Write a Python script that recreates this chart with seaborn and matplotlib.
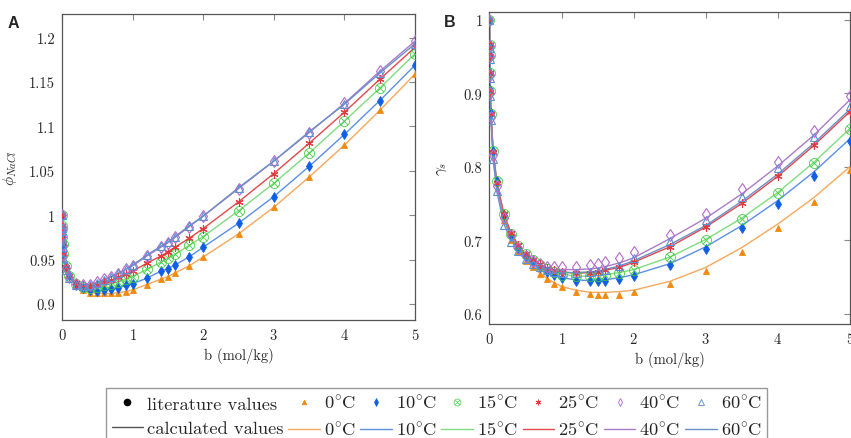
import numpy as np
import pandas as pd
import matplotlib
matplotlib.use("Agg")
import matplotlib.pyplot as plt
from matplotlib.lines import Line2D
import seaborn as sns

# ---------------------------------------------------------------
# Données (NaCl : phi et gamma selon b et T)
# ---------------------------------------------------------------
b = [0, 0.001, 0.002, 0.005, 0.01, 0.02, 0.05, 0.1, 0.2, 0.3, 0.4, 0.5, 0.6, 0.7,
     0.8, 0.9, 1.0, 1.2, 1.4, 1.5, 1.6, 1.8, 2.0, 2.5, 3.0, 3.5, 4.0, 4.5, 5.0]

temperatures = ["0", "10", "15", "25", "40", "60"]

# coefficient osmotique (panel A), valeurs de la littérature
phi_0 = [1.0, 0.988, 0.984, 0.976, 0.968, 0.957, 0.944, 0.933, 0.922, 0.916, 0.913, 0.912, 0.912, 0.912,
         0.913, 0.914, 0.916, 0.922, 0.928, 0.931, 0.935, 0.943, 0.953, 0.979, 1.009, 1.043, 1.079, 1.118, 1.159]
phi_10 = [1.0, 0.988, 0.984, 0.976, 0.968, 0.957, 0.943, 0.933, 0.923, 0.918, 0.916, 0.915, 0.916, 0.917,
          0.918, 0.921, 0.923, 0.929, 0.937, 0.940, 0.944, 0.953, 0.964, 0.991, 1.021, 1.055, 1.091, 1.129, 1.169]
phi_15 = [1.0, 0.988, 0.984, 0.976, 0.968, 0.956, 0.943, 0.932, 0.923, 0.919, 0.918, 0.919, 0.921, 0.923,
          0.925, 0.928, 0.931, 0.939, 0.947, 0.952, 0.956, 0.966, 0.976, 1.005, 1.036, 1.070, 1.106, 1.143, 1.182]
phi_25 = [1.0, 0.988, 0.984, 0.976, 0.968, 0.956, 0.942, 0.932, 0.924, 0.921, 0.920, 0.922, 0.9245, 0.927,
          0.930, 0.934, 0.937, 0.946, 0.954, 0.959, 0.964, 0.974, 0.985, 1.015, 1.047, 1.081, 1.116, 1.153, 1.189]
phi_40 = [1.0, 0.987, 0.983, 0.975, 0.967, 0.955, 0.941, 0.931, 0.923, 0.921, 0.922, 0.9245, 0.928, 0.931,
          0.934, 0.939, 0.943, 0.954, 0.964, 0.969, 0.975, 0.987, 0.999, 1.030, 1.061, 1.093, 1.126, 1.162, 1.196]
phi_60 = [1.0, 0.986, 0.982, 0.973, 0.964, 0.952, 0.938, 0.929, 0.922, 0.920, 0.921, 0.924, 0.927, 0.931,
          0.935, 0.939, 0.944, 0.955, 0.965, 0.970, 0.976, 0.988, 0.999, 1.031, 1.061, 1.094, 1.125, 1.160, 1.193]

# coefficient d'activité (panel B), valeurs de la littérature
gam_0 = [1.0, 0.966, 0.953, 0.929, 0.905, 0.874, 0.823, 0.781, 0.728, 0.700, 0.684, 0.672, 0.663, 0.654,
         0.647, 0.641, 0.636, 0.630, 0.627, 0.626, 0.626, 0.626, 0.629, 0.640, 0.658, 0.684, 0.716, 0.752, 0.795]
gam_10 = [1.0, 0.966, 0.952, 0.928, 0.904, 0.873, 0.822, 0.780, 0.734, 0.706, 0.690, 0.679, 0.670, 0.663,
          0.657, 0.652, 0.649, 0.645, 0.644, 0.644, 0.644, 0.647, 0.651, 0.666, 0.688, 0.716, 0.749, 0.788, 0.835]
gam_15 = [1.0, 0.965, 0.952, 0.928, 0.903, 0.872, 0.822, 0.780, 0.735, 0.708, 0.692, 0.681, 0.673, 0.666,
          0.661, 0.657, 0.653, 0.651, 0.651, 0.651, 0.652, 0.656, 0.659, 0.677, 0.700, 0.729, 0.764, 0.805, 0.851]
gam_25 = [1.0, 0.965, 0.951, 0.927, 0.902, 0.871, 0.820, 0.778, 0.735, 0.710, 0.693, 0.681, 0.673, 0.667,
          0.662, 0.659, 0.657, 0.655, 0.656, 0.657, 0.659, 0.663, 0.670, 0.691, 0.718, 0.750, 0.787, 0.829, 0.875]
gam_40 = [1.0, 0.964, 0.950, 0.925, 0.900, 0.868, 0.816, 0.774, 0.730, 0.707, 0.690, 0.679, 0.672, 0.667,
          0.664, 0.663, 0.663, 0.664, 0.666, 0.668, 0.670, 0.676, 0.684, 0.707, 0.736, 0.769, 0.806, 0.849, 0.896]
gam_60 = [1.0, 0.962, 0.946, 0.920, 0.896, 0.864, 0.810, 0.767, 0.721, 0.698, 0.685, 0.675, 0.668, 0.663,
          0.659, 0.657, 0.656, 0.655, 0.657, 0.658, 0.660, 0.665, 0.676, 0.699, 0.727, 0.759, 0.798, 0.840, 0.882]

# valeurs calculées (courbes) pour le panel B, là où elles s'écartent des points
gam_calc_0 = [1.0, 0.966, 0.953, 0.929, 0.905, 0.874, 0.823, 0.781, 0.729, 0.701, 0.685, 0.673, 0.663, 0.655,
              0.648, 0.642, 0.637, 0.632, 0.629, 0.629, 0.629, 0.630, 0.632, 0.644, 0.663, 0.690, 0.722, 0.758, 0.800]
gam_calc_10 = [1.0, 0.966, 0.952, 0.928, 0.904, 0.873, 0.822, 0.780, 0.734, 0.706, 0.690, 0.679, 0.670, 0.663,
               0.657, 0.652, 0.649, 0.646, 0.645, 0.645, 0.646, 0.649, 0.653, 0.668, 0.691, 0.720, 0.754, 0.793, 0.838]
gam_calc_15 = [1.0, 0.965, 0.952, 0.928, 0.903, 0.872, 0.822, 0.780, 0.735, 0.708, 0.692, 0.681, 0.673, 0.666,
               0.661, 0.657, 0.654, 0.651, 0.651, 0.652, 0.653, 0.656, 0.660, 0.677, 0.701, 0.730, 0.765, 0.806, 0.852]
gam_calc_25 = gam_25
gam_calc_40 = [1.0, 0.964, 0.950, 0.925, 0.900, 0.868, 0.816, 0.774, 0.730, 0.706, 0.689, 0.677, 0.669, 0.664,
               0.661, 0.660, 0.660, 0.660, 0.661, 0.662, 0.664, 0.669, 0.676, 0.702, 0.730, 0.763, 0.801, 0.843, 0.891]
gam_calc_60 = [1.0, 0.962, 0.946, 0.920, 0.896, 0.864, 0.810, 0.767, 0.722, 0.699, 0.685, 0.675, 0.668, 0.663,
               0.659, 0.657, 0.656, 0.656, 0.657, 0.658, 0.660, 0.665, 0.672, 0.694, 0.720, 0.753, 0.790, 0.832, 0.878]

phi_lit = dict(zip(temperatures, [phi_0, phi_10, phi_15, phi_25, phi_40, phi_60]))
phi_calc = phi_lit  # dans le panel A les courbes passent par les points
gam_lit = dict(zip(temperatures, [gam_0, gam_10, gam_15, gam_25, gam_40, gam_60]))
gam_calc = dict(zip(temperatures, [gam_calc_0, gam_calc_10, gam_calc_15, gam_calc_25, gam_calc_40, gam_calc_60]))

x_ticks = [0, 1, 2, 3, 4, 5]
phi_ticks = [0.9, 0.95, 1.0, 1.05, 1.1, 1.15, 1.2]
phi_tick_labels = ["0.9", "0.95", "1", "1.05", "1.1", "1.15", "1.2"]
gam_ticks = [0.6, 0.7, 0.8, 0.9, 1.0]
gam_tick_labels = ["0.6", "0.7", "0.8", "0.9", "1"]

# ---------------------------------------------------------------
# Styles
# ---------------------------------------------------------------
sns.set_theme(style="white")
plt.rcParams['font.family'] = ['cmr10', 'DejaVu Serif']
plt.rcParams['mathtext.fontset'] = 'cm'
plt.rcParams['axes.formatter.use_mathtext'] = True

styles = {
    "0":  dict(marker="^", mc="#f08a10", mfc="#f08a10", lc="#f7a85c", ms=4.8, mew=0.6),
    "10": dict(marker="d", mc="#0f5fe6", mfc="#0f5fe6", lc="#5b8fe8", ms=5.2, mew=0.6),
    "15": dict(marker=r"$\otimes$", mc="#3ccb3c", mfc="#3ccb3c", lc="#80dc80", ms=7.5, mew=0.2),
    "25": dict(marker=(6, 2, 0), mc="#e23a40", mfc="#e23a40", lc="#e2484e", ms=5.8, mew=0.8),
    "40": dict(marker="d", mc="#b46ad0", mfc="none", lc="#a97cc6", ms=6, mew=0.8),
    "60": dict(marker="^", mc="#5b90d4", mfc="none", lc="#6c8fc8", ms=6, mew=0.8),
}

fig = plt.figure(figsize=(8.51, 4.39), dpi=100)
ax_a = fig.add_axes([62 / 851, 1 - 320.7 / 439, 353 / 851, 305.7 / 439])
ax_b = fig.add_axes([489.5 / 851, 1 - 325 / 439, 360.5 / 851, 311.7 / 439])


def trace_panel(ax, lit, calc):
    for T in temperatures:
        st = styles[T]
        sns.lineplot(x=b, y=calc[T], ax=ax, color=st["lc"], lw=1.0,
                     estimator=None, sort=False, legend=False, zorder=2)
    for T in temperatures:
        st = styles[T]
        sns.lineplot(x=b, y=lit[T], ax=ax, linestyle="none", marker=st["marker"],
                     markersize=st["ms"], markeredgecolor=st["mc"], markerfacecolor=st["mfc"],
                     markeredgewidth=st["mew"], estimator=None, sort=False, legend=False, zorder=3)
    ax.set_xlim(0, 5)
    ax.set_xticks(x_ticks)
    ax.set_xlabel("b (mol/kg)", fontsize=10.5, labelpad=4)
    ax.tick_params(direction="in", top=True, right=True, length=4, width=0.8,
                   color="#888888", labelsize=10.5, pad=5)
    for s in ax.spines.values():
        s.set_color("#555555")
        s.set_linewidth(0.9)


trace_panel(ax_a, phi_lit, phi_calc)
ax_a.set_ylim(0.8824, 1.2266)
ax_a.set_yticks(phi_ticks, labels=phi_tick_labels)
ax_a.set_ylabel(r"$\phi_{NaCl}$", fontsize=11)
ax_a.yaxis.set_label_coords(-0.122, 0.5)

trace_panel(ax_b, gam_lit, gam_calc)
ax_b.set_ylim(0.586, 1.01)
ax_b.set_yticks(gam_ticks, labels=gam_tick_labels)
ax_b.set_ylabel(r"$\gamma_s$", fontsize=11)
ax_b.yaxis.set_label_coords(-0.112, 0.5)

fig.text(8 / 851, 1 - 28 / 439, "A", family="Liberation Sans", fontweight="bold", fontsize=11.5)
fig.text(444 / 851, 1 - 27 / 439, "B", family="Liberation Sans", fontweight="bold", fontsize=11.5)

# ---------------------------------------------------------------
# Légende (2 lignes : points / courbes)
# ---------------------------------------------------------------
handles = [Line2D([], [], ls="none", marker="o", color="black", ms=4.5),
           Line2D([], [], color="#555555", lw=1.0)]
labels = ["literature values", "calculated values"]
for T in temperatures:
    st = styles[T]
    handles.append(Line2D([], [], ls="none", marker=st["marker"], markeredgecolor=st["mc"],
                          markerfacecolor=st["mfc"], markeredgewidth=st["mew"] * 0.8,
                          ms=st["ms"] * 0.7))
    handles.append(Line2D([], [], color=st["lc"], lw=1.0))
    lab = r"$" + T + r"^{\circ}\mathrm{C}$"
    labels += [lab, lab]

fig.legend(handles, labels, ncol=7, loc="upper left", bbox_to_anchor=(106 / 851, 1 - 389 / 439),
           frameon=True, fancybox=False, edgecolor="#999999", framealpha=1, fontsize=13.3,
           handlelength=1.7, handletextpad=0.22, columnspacing=0.25, borderpad=0.3,
           labelspacing=0.45, borderaxespad=0)

fig.savefig("out.png", dpi=100)
